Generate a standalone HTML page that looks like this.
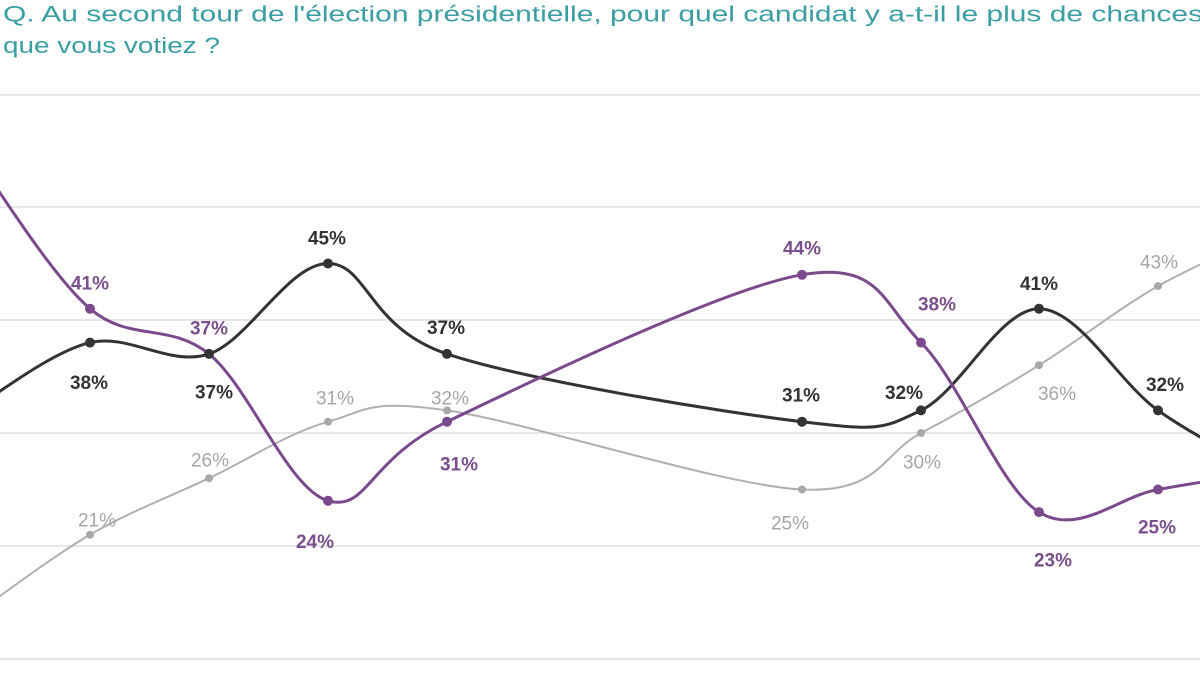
<!DOCTYPE html>
<html>
<head>
<meta charset="utf-8">
<style>
  html, body { margin: 0; padding: 0; background: #ffffff; }
  body { width: 1200px; height: 675px; overflow: hidden; }
  svg { display: block; }
  .t { font-family: "Liberation Sans", Arial, sans-serif; fill: #3a9ea3; font-size: 22px; }
  .lb { font-family: "Liberation Sans", Arial, sans-serif; font-size: 19px; font-weight: bold; text-anchor: middle; }
  .k { fill: #333333; }
  .p { fill: #7a4f8c; }
  .g { fill: #a6a6a6; font-weight: normal; }
</style>
</head>
<body>
<svg width="1200" height="675" viewBox="0 0 1200 675" xmlns="http://www.w3.org/2000/svg">
  <rect width="1200" height="675" fill="#ffffff"/>

  <!-- Title -->
  <text class="t" x="3" y="21.5" textLength="1200" lengthAdjust="spacingAndGlyphs">Q. Au second tour de l'élection présidentielle, pour quel candidat y a-t-il le plus de chances</text>
  <text class="t" x="3" y="53" textLength="217" lengthAdjust="spacingAndGlyphs">que vous votiez ?</text>

  <!-- Gridlines -->
  <g stroke="#e6e6e6" stroke-width="2">
    <line x1="0" y1="95" x2="1200" y2="95"/>
    <line x1="0" y1="207" x2="1200" y2="207"/>
    <line x1="0" y1="320" x2="1200" y2="320"/>
    <line x1="0" y1="433" x2="1200" y2="433"/>
    <line x1="0" y1="546" x2="1200" y2="546"/>
    <line x1="0" y1="659" x2="1200" y2="659"/>
  </g>

  <!-- Gray series -->
  <path fill="none" stroke="#b0b0b0" stroke-width="2"
    d="M -29 617
       C -9.17 603.3, 50.33 557.8, 90 534.7
       C 129.67 511.6, 169.33 497.0, 209 478.2
       C 248.67 459.4, 288.33 433.0, 328 421.7
       C 367.67 410.4, 368 399.1, 447 410.4
       C 526 421.7, 723 485.7, 802 489.5
       C 881 493.3, 881.5 453.7, 921 433
       C 960.5 412.3, 999.5 389.7, 1039 365.2
       C 1078.5 340.7, 1118.33 308.6, 1158 286.1
       C 1197.67 263.6, 1257.17 239.35, 1277 230"/>

  <!-- Black series -->
  <path fill="none" stroke="#333333" stroke-width="3"
    d="M -29 410.4
       C -9.17 399.1, 50.33 352.0, 90 342.6
       C 129.67 333.2, 169.33 367.1, 209 353.9
       C 248.67 340.7, 288.33 263.5, 328 263.5
       C 367.67 263.5, 368 327.5, 447 353.9
       C 526 380.3, 723 412.3, 802 421.7
       C 881 431.1, 881.5 429.2, 921 410.4
       C 960.5 391.6, 999.5 308.7, 1039 308.7
       C 1078.5 308.7, 1118.33 382.2, 1158 410.4
       C 1197.67 438.7, 1257.17 466.9, 1277 478.2"/>

  <!-- Purple series -->
  <path fill="none" stroke="#7a4a8c" stroke-width="3"
    d="M -29 150.5
       C -9.17 176.9, 50.33 274.8, 90 308.7
       C 129.67 342.6, 169.33 321.9, 209 353.9
       C 248.67 385.9, 288.33 489.5, 328 500.8
       C 367.67 512.1, 368 459.4, 447 421.7
       C 526 384.0, 723 288.0, 802 274.8
       C 881 261.6, 881.5 303.05, 921 342.6
       C 960.5 382.15, 999.5 487.6, 1039 512.1
       C 1078.5 536.6, 1118.33 496.5, 1158 489.5
       C 1197.67 482.5, 1257.17 473.25, 1277 470"/>

  <!-- Gray markers -->
  <g fill="#a8a8a8">
    <circle cx="90" cy="534.7" r="4"/>
    <circle cx="209" cy="478.2" r="4"/>
    <circle cx="328" cy="421.7" r="4"/>
    <circle cx="447" cy="410.4" r="4"/>
    <circle cx="802" cy="489.5" r="4"/>
    <circle cx="921" cy="433" r="4"/>
    <circle cx="1039" cy="365.2" r="4"/>
    <circle cx="1158" cy="286.1" r="4"/>
  </g>

  <!-- Black markers -->
  <g fill="#333333">
    <circle cx="90" cy="342.6" r="5"/>
    <circle cx="209" cy="353.9" r="5"/>
    <circle cx="328" cy="263.5" r="5"/>
    <circle cx="447" cy="353.9" r="5"/>
    <circle cx="802" cy="421.7" r="5"/>
    <circle cx="921" cy="410.4" r="5"/>
    <circle cx="1039" cy="308.7" r="5"/>
    <circle cx="1158" cy="410.4" r="5"/>
  </g>

  <!-- Purple markers -->
  <g fill="#7a4a8c">
    <circle cx="90" cy="308.7" r="5"/>
    <circle cx="328" cy="500.8" r="5"/>
    <circle cx="447" cy="421.7" r="5"/>
    <circle cx="802" cy="274.8" r="5"/>
    <circle cx="921" cy="342.6" r="5"/>
    <circle cx="1039" cy="512.1" r="5"/>
    <circle cx="1158" cy="489.5" r="5"/>
  </g>

  <!-- Black labels -->
  <g class="lb k">
    <text x="89" y="389">38%</text>
    <text x="214" y="398.5">37%</text>
    <text x="327" y="244.5">45%</text>
    <text x="446" y="334">37%</text>
    <text x="801" y="401.5">31%</text>
    <text x="904" y="399">32%</text>
    <text x="1039" y="290">41%</text>
    <text x="1165" y="391">32%</text>
  </g>

  <!-- Purple labels -->
  <g class="lb p">
    <text x="90" y="289.5">41%</text>
    <text x="209" y="334.5">37%</text>
    <text x="315" y="548">24%</text>
    <text x="459" y="470.5">31%</text>
    <text x="802" y="254.5">44%</text>
    <text x="937" y="310.5">38%</text>
    <text x="1053" y="566.5">23%</text>
    <text x="1157" y="533.5">25%</text>
  </g>

  <!-- Gray labels -->
  <g class="lb g">
    <text x="97" y="526.5">21%</text>
    <text x="210" y="466.5">26%</text>
    <text x="335" y="404.5">31%</text>
    <text x="450" y="404.5">32%</text>
    <text x="790" y="529.5">25%</text>
    <text x="922" y="468.5">30%</text>
    <text x="1057" y="400">36%</text>
    <text x="1159" y="268.5">43%</text>
  </g>
</svg>
</body>
</html>
